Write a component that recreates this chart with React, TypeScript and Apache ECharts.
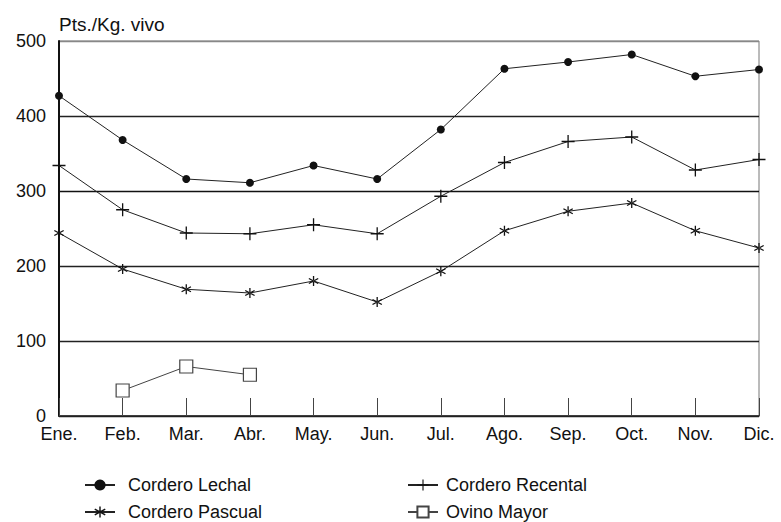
import React, { useEffect, useRef } from "react";
import * as echarts from "echarts";

const months = ["Ene.", "Feb.", "Mar.", "Abr.", "May.", "Jun.", "Jul.", "Ago.", "Sep.", "Oct.", "Nov.", "Dic."];
const lechal = [427, 368, 316, 311, 334, 316, 382, 463, 472, 482, 453, 462];
const recental = [334, 275, 244, 243, 255, 243, 293, 338, 366, 372, 328, 342];
const pascual = [244, 196, 169, 164, 180, 152, 193, 247, 273, 284, 247, 224];
const ovino = ["-", 34, 66, 55, "-", "-", "-", "-", "-", "-", "-", "-"];

const PLUS = "path://M-0.1,-1L0.1,-1L0.1,-0.1L1,-0.1L1,0.1L0.1,0.1L0.1,1L-0.1,1L-0.1,0.1L-1,0.1L-1,-0.1L-0.1,-0.1Z";
const STAR =
  "path://M-0.12,-1L0.12,-1L0.12,1L-0.12,1Z" +
  "M0.806,0.604L0.926,0.396L-0.806,-0.604L-0.926,-0.396Z" +
  "M-0.926,0.396L-0.806,0.604L0.926,-0.396L0.806,-0.604Z";

const FONT = "'Liberation Sans', Arial, sans-serif";

export default function App() {
  const ref = useRef<HTMLDivElement>(null);
  useEffect(() => {
    document.body.style.margin = "0";
    const chart = echarts.init(ref.current!, null, { renderer: "svg" });
    const lineBase = {
      type: "line" as const,
      lineStyle: { color: "#222", width: 1 },
      itemStyle: { color: "#111" },
      emphasis: { disabled: true },
    };
    const legendText = { color: "#111", fontSize: 18, lineHeight: 18, fontFamily: FONT };
    chart.setOption({
      animation: false,
      backgroundColor: "#fff",
      textStyle: { fontFamily: FONT },
      grid: {
        left: 59,
        right: 22,
        top: 41,
        bottom: 106,
        show: true,
        borderColor: "#777",
        borderWidth: 1,
      },
      xAxis: {
        type: "category",
        data: months,
        boundaryGap: false,
        axisLine: { lineStyle: { color: "#222", width: 1.5 } },
        axisTick: { show: true, inside: true, length: 18, lineStyle: { color: "#444", width: 1 } },
        axisLabel: { color: "#111", fontSize: 18, margin: 9, fontFamily: FONT },
        splitLine: { show: false },
      },
      yAxis: {
        type: "value",
        min: 0,
        max: 500,
        interval: 100,
        name: "Pts./Kg. vivo",
        nameLocation: "end",
        nameGap: 17,
        nameTextStyle: { color: "#111", fontSize: 19, align: "left", verticalAlign: "middle", fontFamily: FONT },
        axisLine: { show: true, lineStyle: { color: "#111", width: 2 } },
        axisTick: { show: false },
        axisLabel: { color: "#111", fontSize: 18, margin: 13, fontFamily: FONT },
        splitLine: {
          show: true,
          lineStyle: { color: ["#222", "#222", "#222", "#111", "#222", "#888"], width: 1.4 },
        },
      },
      legend: [
        {
          id: "legA",
          data: ["Cordero Lechal", "Cordero Pascual"],
          orient: "vertical",
          left: 84,
          top: 476,
          padding: 0,
          itemWidth: 30,
          itemHeight: 14,
          itemGap: 9,
          textStyle: { ...legendText, padding: [0, 0, 0, 8] },
        },
        {
          id: "legB",
          data: ["Cordero Recental", "Ovino Mayor"],
          orient: "vertical",
          left: 407,
          top: 476,
          padding: 0,
          itemWidth: 30,
          itemHeight: 14,
          itemGap: 9,
          textStyle: { ...legendText, padding: [0, 0, 0, 3] },
        },
      ],
      series: [
        { ...lineBase, name: "Cordero Lechal", data: lechal, symbol: "circle", symbolSize: 8 },
        { ...lineBase, name: "Cordero Recental", data: recental, symbol: PLUS, symbolSize: 13 },
        { ...lineBase, name: "Cordero Pascual", data: pascual, symbol: STAR, symbolSize: 10 },
        {
          ...lineBase,
          name: "Ovino Mayor",
          data: ovino,
          symbol: "rect",
          symbolSize: 13,
          connectNulls: false,
          lineStyle: { color: "#444", width: 1 },
          itemStyle: { color: "#fff", borderColor: "#444", borderWidth: 1.2 },
        },
      ],
    });
    return () => chart.dispose();
  }, []);
  return <div ref={ref} style={{ width: 781, height: 522 }} />;
}
